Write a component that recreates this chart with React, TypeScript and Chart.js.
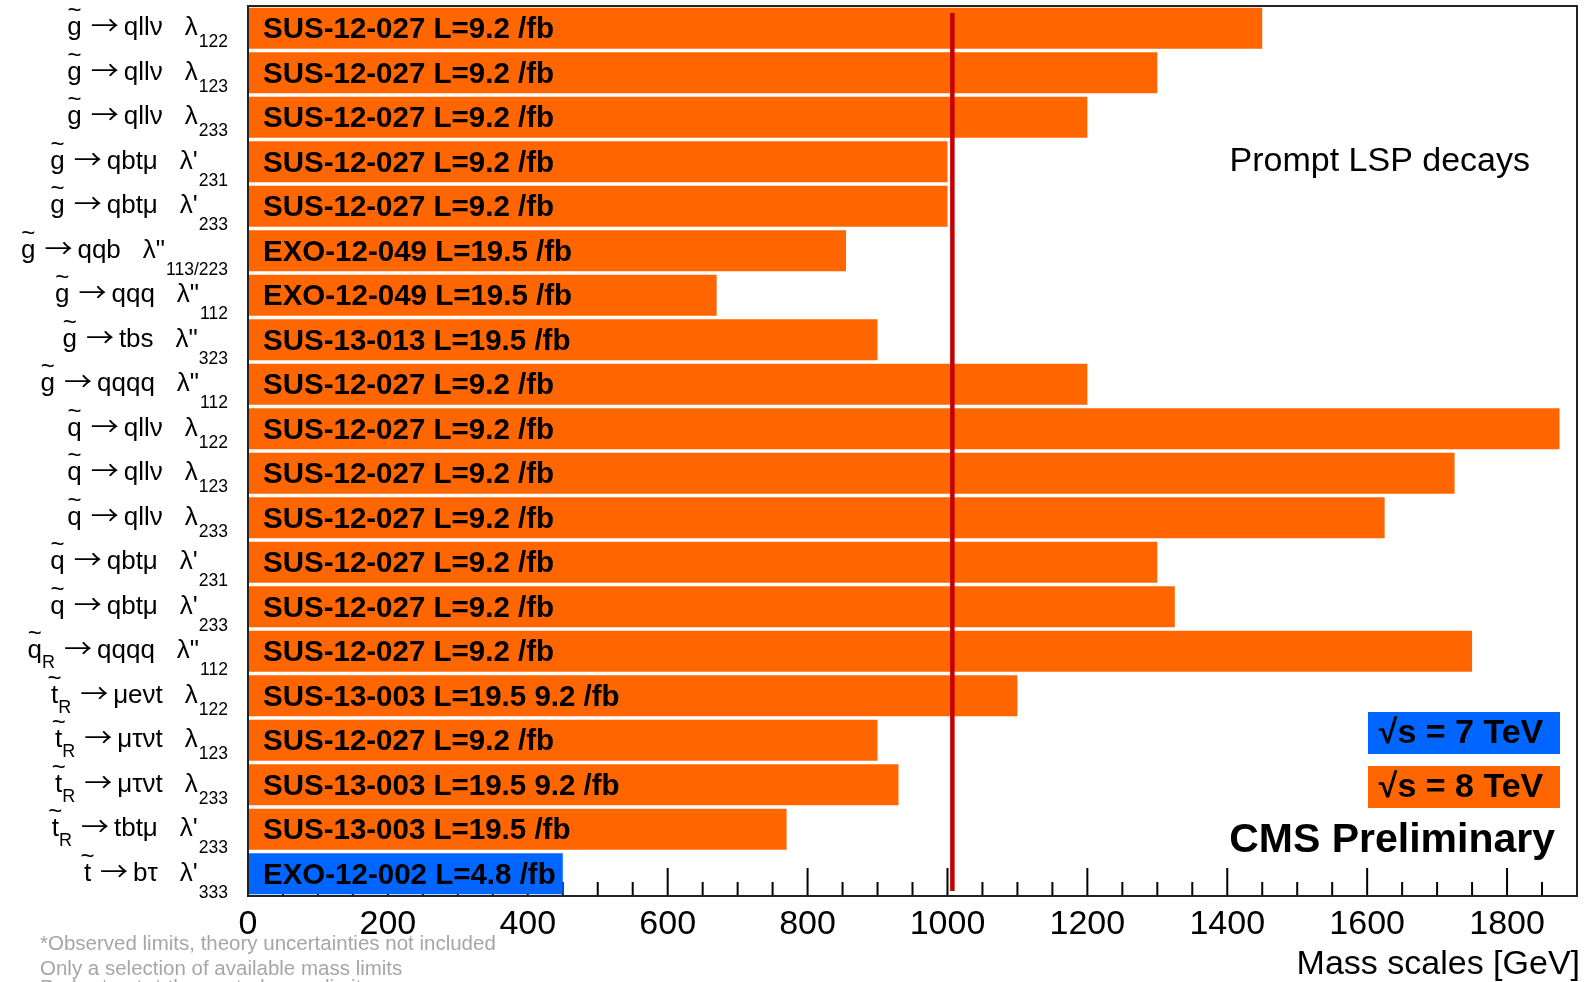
import React, { useEffect, useRef } from "react";
import { Chart, registerables } from "chart.js";

Chart.register(...registerables);

// Rows, top to bottom
const sparticles = ["g", "g", "g", "g", "g", "g", "g", "g", "g", "q", "q", "q", "q", "q", "q", "t", "t", "t", "t", "t"];
const sparticleSubs = ["", "", "", "", "", "", "", "", "", "", "", "", "", "", "R", "R", "R", "R", "R", ""];
const decays = ["qllν", "qllν", "qllν", "qbtμ", "qbtμ", "qqb", "qqq", "tbs", "qqqq", "qllν", "qllν", "qllν", "qbtμ", "qbtμ", "qqqq", "μeνt", "μτνt", "μτνt", "tbtμ", "bτ"];
const couplings = ["λ", "λ", "λ", "λ'", "λ'", "λ\"", "λ\"", "λ\"", "λ\"", "λ", "λ", "λ", "λ'", "λ'", "λ\"", "λ", "λ", "λ", "λ'", "λ'"];
const couplingIndices = ["122", "123", "233", "231", "233", "113/223", "112", "323", "112", "122", "123", "233", "231", "233", "112", "122", "123", "233", "233", "333"];
const analyses = [
  "SUS-12-027 L=9.2 /fb", "SUS-12-027 L=9.2 /fb", "SUS-12-027 L=9.2 /fb", "SUS-12-027 L=9.2 /fb", "SUS-12-027 L=9.2 /fb",
  "EXO-12-049 L=19.5 /fb", "EXO-12-049 L=19.5 /fb", "SUS-13-013 L=19.5 /fb", "SUS-12-027 L=9.2 /fb", "SUS-12-027 L=9.2 /fb",
  "SUS-12-027 L=9.2 /fb", "SUS-12-027 L=9.2 /fb", "SUS-12-027 L=9.2 /fb", "SUS-12-027 L=9.2 /fb", "SUS-12-027 L=9.2 /fb",
  "SUS-13-003 L=19.5 9.2 /fb", "SUS-12-027 L=9.2 /fb", "SUS-13-003 L=19.5 9.2 /fb", "SUS-13-003 L=19.5 /fb", "EXO-12-002 L=4.8 /fb",
];
const massLimits = [1450, 1300, 1200, 1000, 1000, 855, 670, 900, 1200, 1875, 1725, 1625, 1300, 1325, 1750, 1100, 900, 930, 770, 450];
const sqrtS = [8, 8, 8, 8, 8, 8, 8, 8, 8, 8, 8, 8, 8, 8, 8, 8, 8, 8, 8, 7];

// Axis
const xMin = 0;
const xMax = 1900;
const tickValues = [0, 200, 400, 600, 800, 1000, 1200, 1400, 1600, 1800];
const minorStep = 50;
const referenceMass = 1007;

const footnotes = [
  "*Observed limits, theory uncertainties not included",
  "Only a selection of available mass limits",
  "Probe *up to* the quoted mass limit",
];

const ORANGE = "#ff6600";
const BLUE = "#0066ff";
const FONT = '"Liberation Sans", Arial, Helvetica, sans-serif';

const rowLabel = (i: number) =>
  `${sparticles[i]}̃${sparticleSubs[i]} → ${decays[i]} ${couplings[i]}${couplingIndices[i]}`;

// thin arrow glyph, stretched to a fixed advance
function drawArrow(ctx: CanvasRenderingContext2D, right: number, base: number, width: number) {
  ctx.save();
  ctx.font = `26px "Noto Sans CJK SC", "DejaVu Sans", sans-serif`;
  ctx.textAlign = "left";
  const w = ctx.measureText("→").width;
  ctx.translate(right - width, base);
  ctx.scale(width / w, 1);
  ctx.fillText("→", 0, 0);
  ctx.restore();
}

const overlayPlugin = {
  id: "cmsOverlay",
  beforeDatasetsDraw(chart: any) {
    const { ctx, chartArea } = chart;
    const xs = chart.scales.x;
    ctx.save();
    ctx.strokeStyle = "#000";
    ctx.lineWidth = 2;
    for (let v = xMin + minorStep; v < xMax; v += minorStep) {
      const x = xs.getPixelForValue(v);
      const len = tickValues.includes(v) ? 28 : 14;
      ctx.beginPath();
      ctx.moveTo(x, chartArea.bottom);
      ctx.lineTo(x, chartArea.bottom - len);
      ctx.stroke();
    }
    ctx.restore();
  },
  afterDatasetsDraw(chart: any) {
    const { ctx, chartArea } = chart;
    const xs = chart.scales.x;
    const ys = chart.scales.y;
    ctx.save();
    // analysis labels inside bars
    ctx.font = `bold 29.5px ${FONT}`;
    ctx.fillStyle = "#000";
    ctx.textAlign = "left";
    ctx.textBaseline = "middle";
    const x0 = xs.getPixelForValue(0) + 15;
    analyses.forEach((t, i) => {
      ctx.fillText(t, x0, ys.getPixelForValue(i) + 2);
    });
    // 1 TeV reference line
    const xr = xs.getPixelForValue(referenceMass);
    ctx.strokeStyle = "#c40000";
    ctx.lineWidth = 4.5;
    ctx.beginPath();
    ctx.moveTo(xr, chartArea.top + 7);
    ctx.lineTo(xr, chartArea.bottom - 5);
    ctx.stroke();
    ctx.restore();
  },
  afterDraw(chart: any) {
    const { ctx, chartArea } = chart;
    const xs = chart.scales.x;
    const ys = chart.scales.y;
    ctx.save();

    // frame
    ctx.strokeStyle = "#222";
    ctx.lineWidth = 2;
    ctx.strokeRect(chartArea.left, chartArea.top, chartArea.right - chartArea.left, chartArea.bottom - chartArea.top);

    // x tick labels
    ctx.fillStyle = "#000";
    ctx.font = `34px ${FONT}`;
    ctx.textAlign = "center";
    ctx.textBaseline = "alphabetic";
    tickValues.forEach((v) => {
      ctx.fillText(String(v), xs.getPixelForValue(v), chartArea.bottom + 38);
    });

    // axis title
    ctx.textAlign = "right";
    ctx.fillText("Mass scales [GeV]", chartArea.right + 3, chartArea.bottom + 78);

    // row labels
    const rightX = chartArea.left - 20;
    for (let i = 0; i < sparticles.length; i++) {
      const yc = ys.getPixelForValue(i);
      const base = yc + 7;
      let x = rightX;
      ctx.textAlign = "right";
      ctx.textBaseline = "alphabetic";
      ctx.font = `17.5px ${FONT}`;
      const idx = couplingIndices[i];
      ctx.fillText(idx, x, yc + (couplings[i] === "λ" ? 19 : 24));
      x -= ctx.measureText(idx).width + 1;
      ctx.font = `26px ${FONT}`;
      ctx.fillText(couplings[i], x, base);
      x -= ctx.measureText(couplings[i]).width + 22;
      ctx.fillText(decays[i], x, base);
      x -= ctx.measureText(decays[i]).width + 5;
      drawArrow(ctx, x, base, 28);
      x -= 28 + 9;
      ctx.textAlign = "right";
      if (sparticleSubs[i]) {
        ctx.font = `18px ${FONT}`;
        ctx.fillText(sparticleSubs[i], x, yc + 17);
        x -= ctx.measureText(sparticleSubs[i]).width;
        ctx.font = `26px ${FONT}`;
      }
      ctx.fillText(sparticles[i], x, base);
      const w = ctx.measureText(sparticles[i]).width;
      ctx.font = `24px ${FONT}`;
      ctx.textAlign = "center";
      ctx.fillText("~", x - w / 2, base - 17);
    }

    // annotations
    ctx.fillStyle = "#000";
    ctx.textAlign = "right";
    ctx.textBaseline = "middle";
    ctx.font = `34px ${FONT}`;
    ctx.fillText("Prompt LSP decays", chartArea.right - 47, chartArea.top + 156);

    // energy legend
    const boxL = chartArea.right - 209;
    const boxW = 192;
    ctx.fillStyle = BLUE;
    ctx.fillRect(boxL, 712, boxW, 42);
    ctx.fillStyle = ORANGE;
    ctx.fillRect(boxL, 766, boxW, 42);
    ctx.fillStyle = "#000";
    ctx.font = `bold 34px ${FONT}`;
    ctx.textAlign = "center";
    ctx.fillText("√s = 7 TeV", boxL + boxW / 2 - 3, 734);
    ctx.fillText("√s = 8 TeV", boxL + boxW / 2 - 3, 788);

    ctx.textAlign = "right";
    ctx.textBaseline = "alphabetic";
    ctx.font = `bold 41px ${FONT}`;
    ctx.fillText("CMS Preliminary", chartArea.right - 22, 852);

    // footnotes (the last line runs off the bottom edge)
    ctx.fillStyle = "#a6a6a6";
    ctx.font = `20.5px ${FONT}`;
    ctx.textAlign = "left";
    const footBase = [950, 975, 994];
    footnotes.forEach((t, k) => {
      ctx.fillText(t, 40, footBase[k]);
    });

    ctx.restore();
  },
};

export default function App() {
  const canvasRef = useRef<HTMLCanvasElement | null>(null);

  useEffect(() => {
    document.body.style.margin = "0";
    const canvas = canvasRef.current;
    if (!canvas) return;
    const chart = new Chart(canvas, {
      type: "bar",
      data: {
        labels: sparticles.map((_, i) => rowLabel(i)),
        datasets: [
          {
            data: massLimits,
            backgroundColor: sqrtS.map((e) => (e === 7 ? BLUE : ORANGE)),
            borderWidth: 0,
            barPercentage: 0.92,
            categoryPercentage: 1,
          },
        ],
      },
      options: {
        indexAxis: "y",
        animation: false,
        responsive: false,
        devicePixelRatio: 1,
        layout: { padding: { left: 248, top: 6, right: 14, bottom: 86 } },
        plugins: { legend: { display: false }, tooltip: { enabled: false } },
        scales: {
          x: { type: "linear", min: xMin, max: xMax, display: false },
          y: { type: "category", display: false },
        },
      },
      plugins: [overlayPlugin],
    });
    return () => chart.destroy();
  }, []);

  return (
    <div style={{ position: "absolute", left: 0, top: 0, width: 1591, height: 982, background: "#fff" }}>
      <canvas ref={canvasRef} width={1591} height={982} />
    </div>
  );
}
